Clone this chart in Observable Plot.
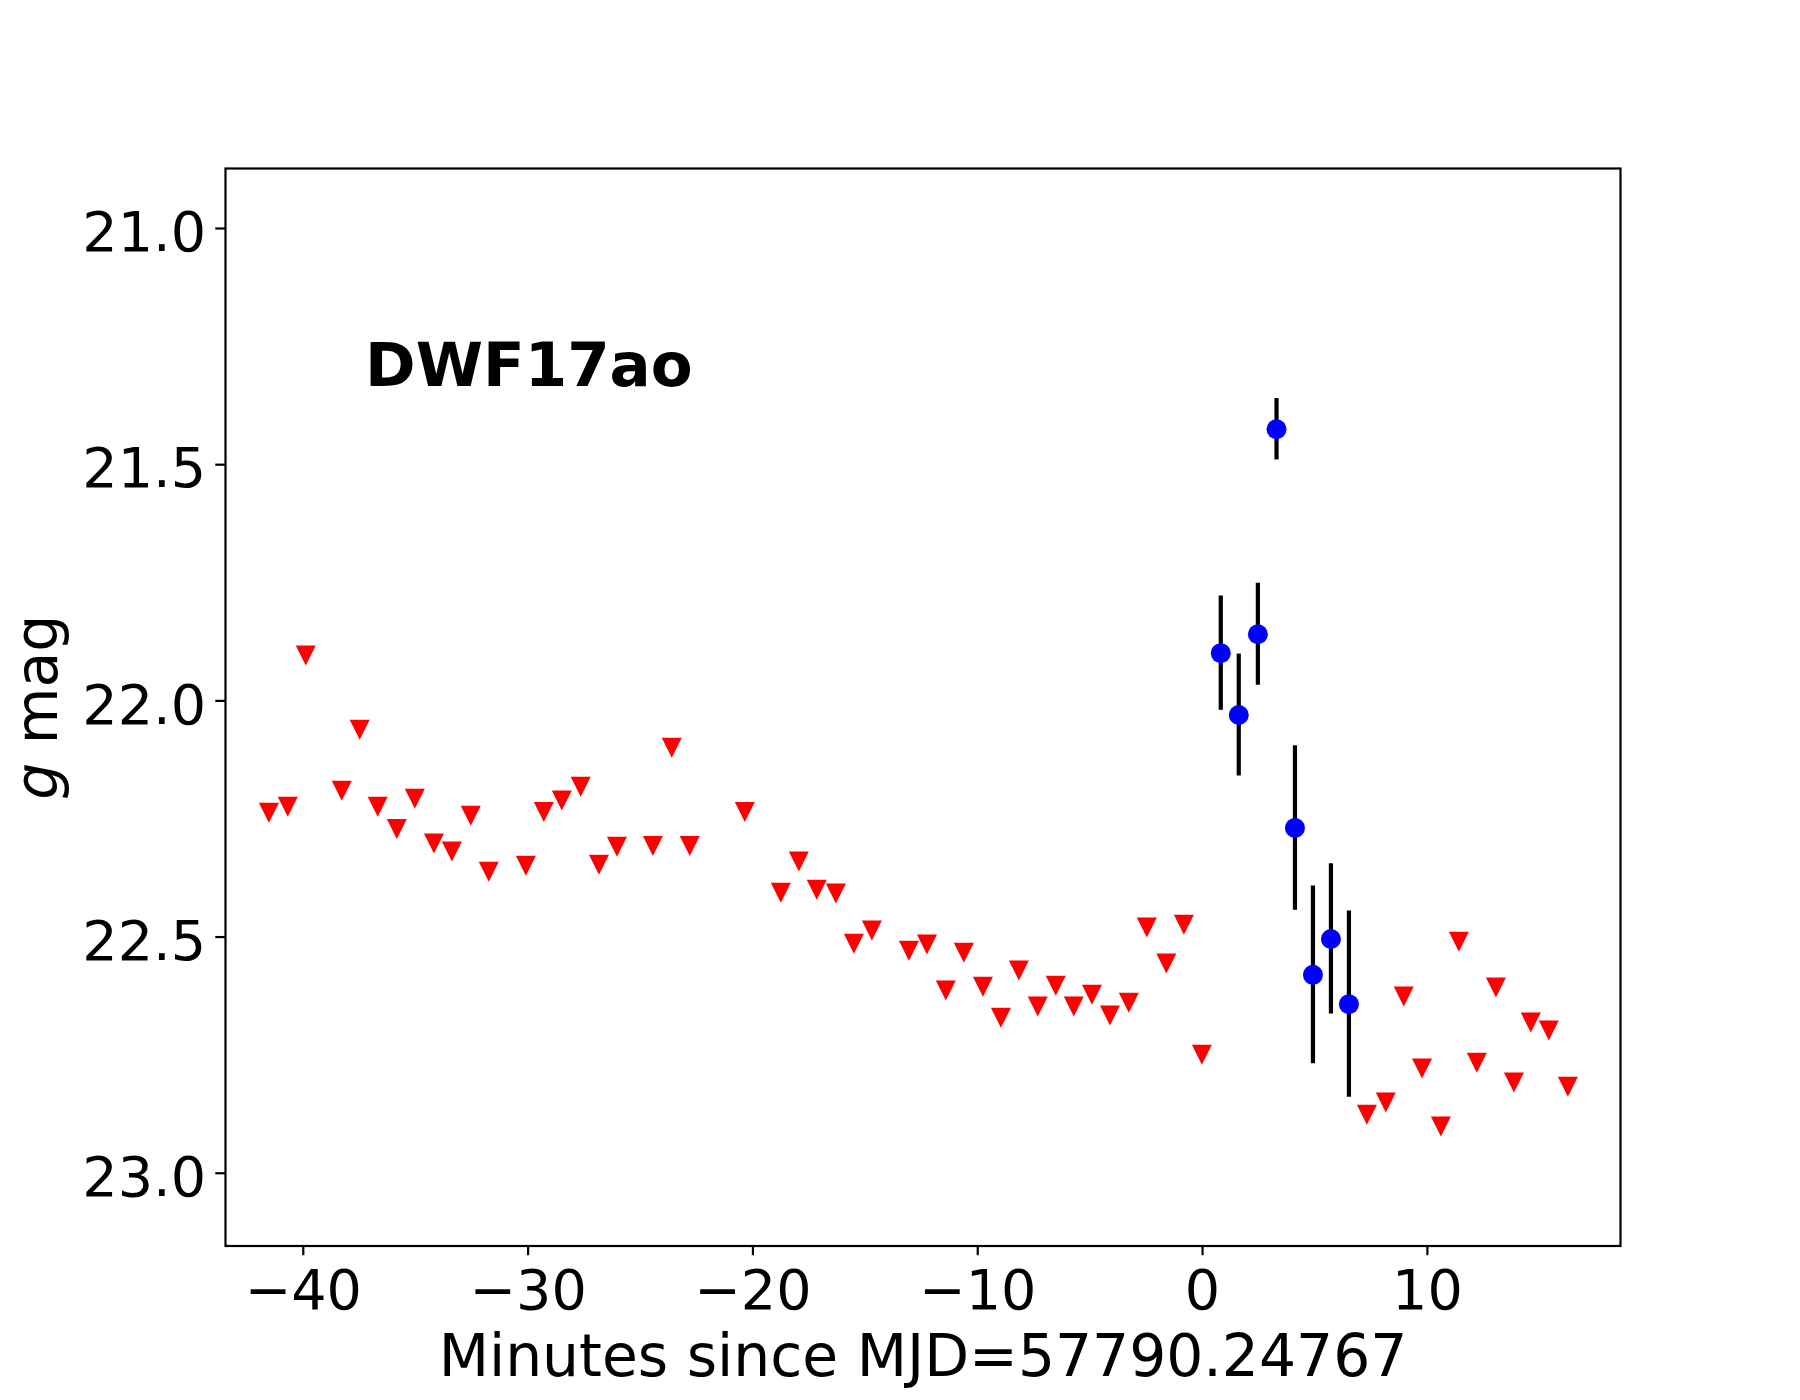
<!DOCTYPE html>
<html>
<head>
<meta charset="utf-8">
<script src="https://cdn.jsdelivr.net/npm/d3@7"></script>
<script src="https://cdn.jsdelivr.net/npm/@observablehq/plot@0.6"></script>
<style>
  html, body { margin: 0; padding: 0; background: #ffffff; }
  #chart { width: 1800px; height: 1400px; }
</style>
</head>
<body>
<div id="chart"></div>
<script>
// Upper limits (non-detections), minutes since reference epoch and g magnitude
const limitTimes = [
  -41.53, -40.69, -39.89, -38.29, -37.49, -36.69, -35.84, -35.04, -34.19, -33.39,
  -32.55, -31.75, -30.10, -29.30, -28.50, -27.66, -26.85, -26.05, -24.45, -23.61,
  -22.81, -20.36, -18.76, -17.96, -17.16, -16.31, -15.51, -14.71, -13.06, -12.26,
  -11.42, -10.62, -9.77, -8.97, -8.17, -7.33, -6.53, -5.73, -4.92, -4.12,
  -3.28, -2.48, -1.61, -0.83, -0.03, 7.31, 8.15, 8.95, 9.76, 10.60,
  11.40, 12.20, 13.05, 13.85, 14.60, 15.40, 16.25
];
const limitMags = [
  22.237, 22.224, 21.904, 22.190, 22.061, 22.224, 22.271, 22.207, 22.302, 22.319,
  22.243, 22.362, 22.349, 22.235, 22.211, 22.182, 22.347, 22.309, 22.307, 22.099,
  22.307, 22.235, 22.406, 22.340, 22.400, 22.408, 22.514, 22.486, 22.529, 22.516,
  22.613, 22.533, 22.605, 22.671, 22.571, 22.647, 22.603, 22.647, 22.622, 22.666,
  22.639, 22.480, 22.556, 22.474, 22.749, 22.876, 22.850, 22.626, 22.778, 22.901,
  22.510, 22.766, 22.607, 22.808, 22.681, 22.698, 22.817
];

// Detections with 1-sigma magnitude errors
const detTimes = [0.81, 1.61, 2.46, 3.29, 4.11, 4.91, 5.71, 6.51];
const detMags  = [21.899, 22.030, 21.859, 21.425, 22.269, 22.580, 22.504, 22.642];
const detErrs  = [0.121, 0.129, 0.108, 0.065, 0.174, 0.188, 0.159, 0.197];

// Axis ticks and labels
const xTicks = [-40, -30, -20, -10, 0, 10];
const yTicks = [21.0, 21.5, 22.0, 22.5, 23.0];
const xLabel = "Minutes since MJD=57790.24767";
const yLabel = "g mag";
const objectName = "DWF17ao";
const objectNameTime = -37.25;
const objectNameMag = 21.333;

// Downward-pointing triangle, as wide as it is tall
const downTriangle = {
  draw(context, size) {
    const r = Math.sqrt(size / Math.PI);
    context.moveTo(-r, -r);
    context.lineTo(r, -r);
    context.lineTo(0, r);
    context.closePath();
  }
};

const limits = limitTimes.map((t, i) => ({t, m: limitMags[i]}));
const detections = detTimes.map((t, i) => ({
  t,
  m: detMags[i],
  lo: detMags[i] - detErrs[i],
  hi: detMags[i] + detErrs[i]
}));

const minusFormat = d => (d < 0 ? "\u2212" + Math.abs(d) : String(d));

const chart = Plot.plot({
  width: 1800,
  height: 1400,
  marginTop: 168,
  marginRight: 180,
  marginBottom: 154.5,
  marginLeft: 225,
  style: {
    fontFamily: "'DejaVu Sans', sans-serif",
    fontSize: "55.6px",
    color: "black",
    background: "white",
    overflow: "visible"
  },
  x: {domain: [-43.46, 18.59]},
  y: {domain: [20.873, 23.154], reverse: true},
  marks: [
    Plot.dot(limits, {x: "t", y: "m", symbol: downTriangle, r: 10, fill: "#ff0000", stroke: "none"}),
    Plot.ruleX(detections, {x: "t", y1: "lo", y2: "hi", stroke: "black", strokeWidth: 4.2}),
    Plot.dot(detections, {x: "t", y: "m", r: 10, fill: "#0000ff", stroke: "none"}),
    Plot.text([{t: objectNameTime, m: objectNameMag, label: objectName}], {
      x: "t", y: "m", text: "label",
      textAnchor: "start", lineAnchor: "bottom",
      fontWeight: "bold", fontSize: 61
    }),
    Plot.axisX(xTicks, {
      tickSize: 9.7, tickPadding: 13.8, strokeWidth: 2.2,
      tickFormat: minusFormat, label: null
    }),
    // y tick marks
    Plot.axisY(yTicks, {
      tickSize: 9.7, strokeWidth: 2.2,
      tickFormat: () => "", label: null
    }),
    // y tick labels, set on the baseline just below each tick centre
    Plot.axisY(yTicks, {
      tickSize: 0, tickPadding: 19.4,
      tickFormat: d3.format(".1f"), label: null, dy: 5
    }),
    Plot.text([xLabel], {frameAnchor: "bottom", lineAnchor: "bottom", dy: 130, fontSize: 58.3}),
    Plot.text([yLabel], {
      frameAnchor: "left", rotate: -90, lineAnchor: "bottom",
      textAnchor: "middle", dx: -168.3, fontSize: 58.3
    }),
    Plot.frame({stroke: "black", strokeWidth: 2.2})
  ]
});

// Set the band letter in italics
for (const node of chart.querySelectorAll("text")) {
  if (node.textContent === yLabel) {
    node.textContent = "";
    const ns = "http://www.w3.org/2000/svg";
    const band = document.createElementNS(ns, "tspan");
    band.setAttribute("font-style", "italic");
    band.textContent = "g";
    const rest = document.createElementNS(ns, "tspan");
    rest.textContent = " mag";
    node.appendChild(band);
    node.appendChild(rest);
  }
}

document.getElementById("chart").appendChild(chart);
</script>
</body>
</html>
